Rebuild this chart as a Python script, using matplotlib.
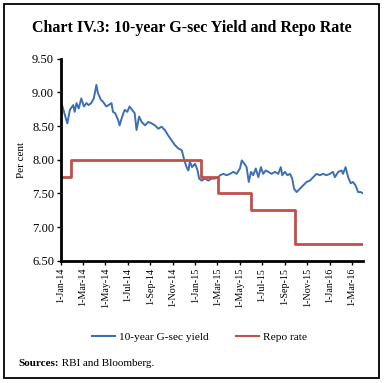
import numpy as np
import matplotlib
matplotlib.use("Agg")
import matplotlib.pyplot as plt
from matplotlib.lines import Line2D
from matplotlib.patches import Rectangle

# ---- data ----
start = np.datetime64('2014-01-01')
yield_days = [0, 17, 24, 33, 37, 42, 48, 55, 62, 69, 75, 82, 89, 96, 100, 108, 114, 123,
              129, 137, 141, 147, 155, 159, 166, 173, 180, 186, 193, 200, 205, 212, 219,
              228, 237, 246, 255, 264, 273, 282, 291, 300, 309, 318, 328, 335, 341, 346,
              350, 356, 364, 371, 375, 382, 391, 400, 409, 418, 427, 432, 441, 450, 459,
              468, 477, 486, 491, 498, 504, 510, 516, 522, 529, 536, 543, 549, 556, 563,
              572, 581, 590, 597, 601, 608, 615, 622, 628, 633, 640, 649, 658, 667, 676,
              685, 694, 703, 712, 721, 730, 739, 744, 753, 762, 766, 773, 780, 787, 793,
              800, 807, 814, 821]
yield_vals = [8.86, 8.54, 8.74, 8.81, 8.71, 8.84, 8.76, 8.91, 8.79, 8.84, 8.81, 8.84, 8.91,
              9.11, 8.99, 8.89, 8.86, 8.79, 8.81, 8.84, 8.71, 8.69, 8.59, 8.51, 8.64, 8.74,
              8.71, 8.79, 8.74, 8.69, 8.44, 8.64, 8.56, 8.51, 8.56, 8.54, 8.51, 8.46, 8.49,
              8.44, 8.36, 8.29, 8.22, 8.17, 8.14, 7.99, 7.89, 7.84, 7.97, 7.89, 7.94, 7.84,
              7.72, 7.69, 7.72, 7.69, 7.72, 7.72, 7.74, 7.77, 7.79, 7.77, 7.79, 7.82, 7.79,
              7.87, 7.99, 7.94, 7.89, 7.67, 7.82, 7.77, 7.87, 7.74, 7.89, 7.79, 7.84, 7.82,
              7.79, 7.82, 7.79, 7.89, 7.77, 7.82, 7.77, 7.79, 7.72, 7.57, 7.52, 7.57, 7.62,
              7.67, 7.69, 7.74, 7.79, 7.77, 7.79, 7.77, 7.79, 7.82, 7.74, 7.82, 7.84, 7.79,
              7.89, 7.74, 7.65, 7.67, 7.62, 7.52, 7.52, 7.50]
repo_dates = ['2014-01-01', '2014-01-28', '2015-01-15', '2015-03-04', '2015-06-02',
              '2015-09-29', '2016-03-31']
repo_vals = [7.75, 8.00, 7.75, 7.50, 7.25, 6.75, 6.75]
xtick_dates = ['2014-01-01', '2014-03-01', '2014-05-01', '2014-07-01', '2014-09-01',
               '2014-11-01', '2015-01-01', '2015-03-01', '2015-05-01', '2015-07-01',
               '2015-09-01', '2015-11-01', '2016-01-01', '2016-03-01']
xtick_labels = ['1-Jan-14', '1-Mar-14', '1-May-14', '1-Jul-14', '1-Sep-14', '1-Nov-14',
                '1-Jan-15', '1-Mar-15', '1-May-15', '1-Jul-15', '1-Sep-15', '1-Nov-15',
                '1-Jan-16', '1-Mar-16']
yticks = [6.50, 7.00, 7.50, 8.00, 8.50, 9.00, 9.50]
title = "Chart IV.3: 10-year G-sec Yield and Repo Rate"

BLUE = '#3c6fb4'
RED = '#c0504d'
plt.rcParams['font.family'] = ['Liberation Serif', 'DejaVu Serif']

fig = plt.figure(figsize=(3.84, 3.83), dpi=100)
ax = fig.add_axes([0.159, 0.319, 0.786, 0.528])

ydates = start + np.array(yield_days).astype('timedelta64[D]')
ax.plot(ydates, yield_vals, color=BLUE, lw=1.4)
rd = np.array(repo_dates, dtype='datetime64[D]')
ax.step(rd, repo_vals, where='post', color=RED, lw=2.0)

ax.set_xlim(np.datetime64('2014-01-01'), np.datetime64('2016-03-31'))
ax.set_ylim(6.5, 9.5)
ax.set_yticks(yticks)
ax.set_yticklabels([f"{v:.2f}" for v in yticks], fontsize=9)
ax.set_xticks(np.array(xtick_dates, dtype='datetime64[D]'))
ax.set_xticklabels(xtick_labels, rotation=90, fontsize=7.2)
for s in ['top', 'right']:
    ax.spines[s].set_visible(False)
for s in ['left', 'bottom']:
    ax.spines[s].set_linewidth(2.0)
ax.tick_params(axis='both', direction='out', length=3, width=1, pad=2)
ax.set_ylabel('Per cent', fontsize=8, labelpad=4)

fig.text(0.083, 0.928, title, fontsize=11.5, fontweight='bold', ha='left', va='center')

handles = [Line2D([0], [0], color=BLUE, lw=1.5), Line2D([0], [0], color=RED, lw=1.5)]
fig.legend(handles, ['10-year G-sec yield', 'Repo rate'], loc='center',
           bbox_to_anchor=(0.52, 0.12), ncol=2, frameon=False, fontsize=8.2,
           handlelength=2.0, columnspacing=2.4, handletextpad=0.4)

src = fig.text(0.047, 0.052, 'Sources:', fontsize=8, fontweight='bold', ha='left', va='center')
fig.canvas.draw()
bb = src.get_window_extent(renderer=fig.canvas.get_renderer())
x1 = bb.x1 / fig.bbox.width
fig.text(x1, 0.052, ' RBI and Bloomberg.', fontsize=8, ha='left', va='center')

fig.patches.append(Rectangle((0.011, 0.013), 0.977, 0.977, transform=fig.transFigure,
                             fill=False, edgecolor='black', lw=1.3))
fig.savefig('out.png', dpi=100)
